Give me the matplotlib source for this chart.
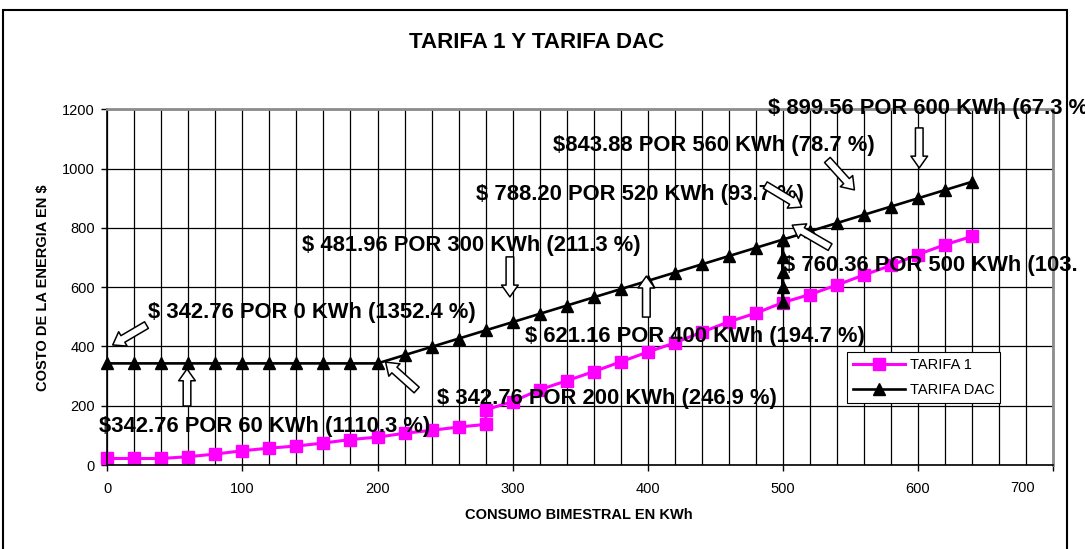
import matplotlib.pyplot as plt
from matplotlib.patches import FancyArrowPatch, Rectangle
from matplotlib.ticker import MultipleLocator

plt.rcParams['font.family'] = ['Liberation Sans', 'DejaVu Sans']

# datos
t1_kwh = [0, 20, 40, 60, 80, 100, 120, 140, 160, 180, 200, 220, 240, 260, 280, 280,
          300, 320, 340, 360, 380, 400, 420, 440, 460, 480, 500, 520, 540, 560, 580,
          600, 620, 640]
t1_costo = [22, 22, 22, 28, 37, 48, 57, 64, 74, 86, 94, 107, 117, 128, 137, 186,
            214, 254, 284, 315, 348, 381, 412, 448, 483, 512, 548, 575, 607, 641, 673,
            710, 743, 771]

dac_kwh = [0, 20, 40, 60, 80, 100, 120, 140, 160, 180, 200, 220, 240, 260, 280, 300,
           320, 340, 360, 380, 400, 420, 440, 460, 480, 500, 500, 500, 500, 500, 500,
           520, 540, 560, 580, 600, 620, 640]
dac_costo = [342.76, 342.76, 342.76, 342.76, 342.76, 342.76, 342.76, 342.76, 342.76,
             342.76, 342.76, 370.60, 398.44, 426.28, 454.12, 481.96, 509.80, 537.64,
             565.48, 593.32, 621.16, 649.00, 676.84, 704.68, 732.52, 760.36, 550, 600,
             650, 700, 760.36, 788.20, 816.04, 843.88, 871.72, 899.56, 927.40, 955.24]

x_ticks = [0, 100, 200, 300, 400, 500, 600, 700]
x_labels = ['0', '100', '200', '300', '400', '500', '600', '']

# textos de las notas (x, y, texto)
notas = [
    (489, 1203, '$ 899.56 POR 600 KWh (67.3 %'),
    (330, 1079, '$843.88 POR 560 KWh (78.7 %)'),
    (273, 911, '$ 788.20 POR 520 KWh (93.7 %)'),
    (144, 742, '$ 481.96 POR 300 KWh (211.3 %)'),
    (500, 674, '$ 760.36 POR 500 KWh (103.'),
    (30, 516, '$ 342.76 POR 0 KWh (1352.4 %)'),
    (309, 433, '$ 621.16 POR 400 KWh (194.7 %)'),
    (244, 225, '$ 342.76 POR 200 KWh (246.9 %)'),
    (-6, 129, '$342.76 POR 60 KWh (1110.3 %)'),
]

# flechas (cola, punta)
flechas = [
    ((29, 472), (4, 405)),
    ((59, 199), (59, 324)),
    ((229, 253), (206, 347)),
    ((298, 702), (298, 567)),
    ((399, 499), (399, 637)),
    ((487, 944), (514, 870)),
    ((535, 735), (507, 809)),
    ((533, 1029), (553, 928)),
    ((601, 1137), (601, 1002)),
]

fig = plt.figure(figsize=(10.85, 5.49), dpi=100)
ax = fig.add_axes([0.0989, 0.153, 0.8716, 0.648])

ax.plot(t1_kwh, t1_costo, color='#FF00FF', lw=2.2, marker='s', markersize=9,
        label='TARIFA 1', clip_on=False, zorder=2)
ax.plot(dac_kwh, dac_costo, color='black', lw=1.9, marker='^', markersize=9,
        label='TARIFA DAC', clip_on=False, zorder=2.2)

ax.set_xlim(0, 700)
ax.set_ylim(0, 1200)
ax.set_xticks(x_ticks, x_labels)
ax.xaxis.set_minor_locator(MultipleLocator(20))
ax.yaxis.set_major_locator(MultipleLocator(200))
ax.grid(which='both', axis='x', color='black', lw=0.9)
ax.grid(which='major', axis='y', color='black', lw=0.9)
ax.set_axisbelow(True)
ax.tick_params(axis='x', which='major', length=4, width=1, pad=8, labelsize=10.5)
ax.tick_params(axis='x', which='minor', length=0)
ax.tick_params(axis='y', length=4.3, width=1, pad=4.5, labelsize=10.5)
for s in ['left', 'bottom']:
    ax.spines[s].set_color('black')
    ax.spines[s].set_linewidth(1.2)
for s in ['top', 'right']:
    ax.spines[s].set_color('#8c8c8c')
    ax.spines[s].set_linewidth(2)

# la etiqueta 700 va corrida a la izquierda, como en Excel
ax.annotate('700', xy=(700, 0), xytext=(-30, -23), textcoords='offset pixels',
            ha='center', va='center', fontsize=10.5, annotation_clip=False)

for x, y, t in notas:
    ax.text(x, y, t, fontsize=15.8, fontweight='bold', ha='left', va='center', zorder=3)

for cola, punta in flechas:
    ax.add_patch(FancyArrowPatch(cola, punta, mutation_scale=1, shrinkA=0, shrinkB=0,
                                 arrowstyle='simple,head_length=8.5,head_width=12,tail_width=5.5',
                                 fc='white', ec='black', lw=1.1, zorder=4, clip_on=False))

leg = ax.legend(loc='upper left', bbox_to_anchor=(847 / 1085, 1 - 352 / 549),
                bbox_transform=fig.transFigure, borderaxespad=0, fontsize=10.5,
                fancybox=False, framealpha=1, edgecolor='black', handlelength=3.6,
                handletextpad=0.3, labelspacing=0.75, borderpad=0.4)
leg.get_frame().set_linewidth(0.8)

fig.text(0.4945, 1 - 42 / 549, 'TARIFA 1 Y TARIFA DAC', ha='center', va='center',
         fontsize=16, fontweight='bold')
fig.text(579 / 1085, 1 - 515 / 549, 'CONSUMO BIMESTRAL EN KWh', ha='center', va='center',
         fontsize=10.5, fontweight='bold')
fig.text(43 / 1085, 1 - 288 / 549, 'COSTO DE LA ENERGIA EN $', ha='center', va='center',
         fontsize=10.5, fontweight='bold', rotation=90)

# marco del area del grafico
fig.patches.append(Rectangle((3 / 1085, -0.05), 1064 / 1085, 1.05 - 10 / 549,
                             transform=fig.transFigure, fill=False, ec='black', lw=1.5))

fig.savefig('out.png', dpi=100)
